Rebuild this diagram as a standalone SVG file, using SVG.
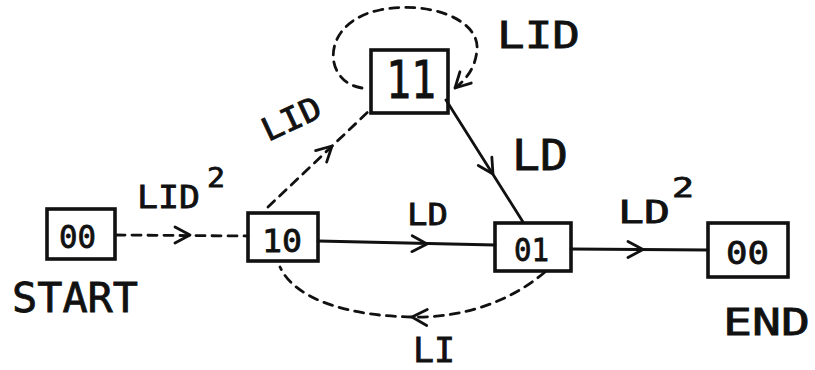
<svg xmlns="http://www.w3.org/2000/svg" xmlns:xlink="http://www.w3.org/1999/xlink" width="815" height="370" viewBox="0 0 815 370">
<style>
.box{fill:none;stroke:#111;stroke-width:3.6;stroke-linejoin:miter}
.t{font-family:"DejaVu Sans Mono","Liberation Mono",monospace;fill:#111;stroke:#111;stroke-width:0.8}
.e{fill:none;stroke:#111;stroke-width:2.8;stroke-linecap:round}
.d{stroke-dasharray:9 7}
.chev{fill:none;stroke:#111;stroke-width:2.8;stroke-linecap:round;stroke-linejoin:round}
</style>
<defs>
<path id="chev" class="chev" d="M -15 -8 L 0 0 L -15 8"/>
</defs>
<rect width="815" height="370" fill="#fff"/>
<g id="connectors">
<path class="e d" d="M 116 235 L 248 236"/>
<use xlink:href="#chev" transform="translate(190,235)"/>
<path class="e" d="M 318 241 L 495 245"/>
<use xlink:href="#chev" transform="translate(427,244) rotate(1.3)"/>
<path class="e" d="M 571 249 L 708 250"/>
<use xlink:href="#chev" transform="translate(643,249.5)"/>
<path class="e" d="M 446 100 L 523 222"/>
<use xlink:href="#chev" transform="translate(493,174) rotate(58)"/>
<path class="e d" d="M 268 207 L 370 110"/>
<use xlink:href="#chev" transform="translate(332,146) rotate(-43.6)"/>
<path class="e d" d="M 362 88 C 322 82 320 22 380 10 C 430 0 480 20 477 50 C 475 70 465 80 455 88"/>
<use xlink:href="#chev" transform="translate(455,88) rotate(135)"/>
<path class="e d" d="M 545 272 C 505 306 455 318 412 317 C 350 316 295 300 280 267"/>
<use xlink:href="#chev" transform="translate(412,317) rotate(182)"/>
</g>
<g id="edge-labels">
<text class="t" x="137" y="208" font-size="32" textLength="63" lengthAdjust="spacingAndGlyphs">LID</text>
<text class="t" x="207" y="187" font-size="26" textLength="18" lengthAdjust="spacingAndGlyphs">2</text>
<text class="t" transform="translate(268,142) rotate(-25)" x="0" y="0" font-size="32" textLength="62" lengthAdjust="spacingAndGlyphs">LID</text>
<text class="t" x="497" y="48" font-size="38" textLength="83" lengthAdjust="spacingAndGlyphs">LID</text>
<text class="t" x="512" y="170" font-size="42" textLength="56" lengthAdjust="spacingAndGlyphs">LD</text>
<text class="t" x="407" y="225" font-size="30" textLength="41" lengthAdjust="spacingAndGlyphs">LD</text>
<text class="t" x="618" y="223" font-size="32" textLength="52" lengthAdjust="spacingAndGlyphs">LD</text>
<text class="t" x="672" y="197" font-size="26" textLength="22" lengthAdjust="spacingAndGlyphs">2</text>
<text class="t" x="413" y="362" font-size="33" textLength="42" lengthAdjust="spacingAndGlyphs">LI</text>
</g>
<g id="node-start">
<rect class="box" x="47" y="209" width="68" height="50"/>
<text class="t" x="59" y="248" font-size="32" textLength="37" lengthAdjust="spacingAndGlyphs">00</text>
<text class="t" x="12" y="312" font-size="40" textLength="126" lengthAdjust="spacingAndGlyphs">START</text>
</g>
<g id="node-10">
<rect class="box" x="248" y="213" width="70" height="48"/>
<text class="t" x="262" y="252" font-size="32" textLength="40" lengthAdjust="spacingAndGlyphs">10</text>
</g>
<g id="node-11">
<rect class="box" x="371" y="50" width="77" height="63"/>
<text class="t" x="386" y="98" font-size="52" textLength="50" lengthAdjust="spacingAndGlyphs">11</text>
</g>
<g id="node-01">
<rect class="box" x="495" y="223" width="76" height="48"/>
<text class="t" x="514" y="261" font-size="32" textLength="35" lengthAdjust="spacingAndGlyphs">01</text>
</g>
<g id="node-end">
<rect class="box" x="708" y="223" width="80" height="54"/>
<text class="t" x="726" y="264" font-size="32" textLength="43" lengthAdjust="spacingAndGlyphs">00</text>
<text class="t" x="723" y="335" font-size="38" textLength="87" lengthAdjust="spacingAndGlyphs">END</text>
</g>
</svg>
